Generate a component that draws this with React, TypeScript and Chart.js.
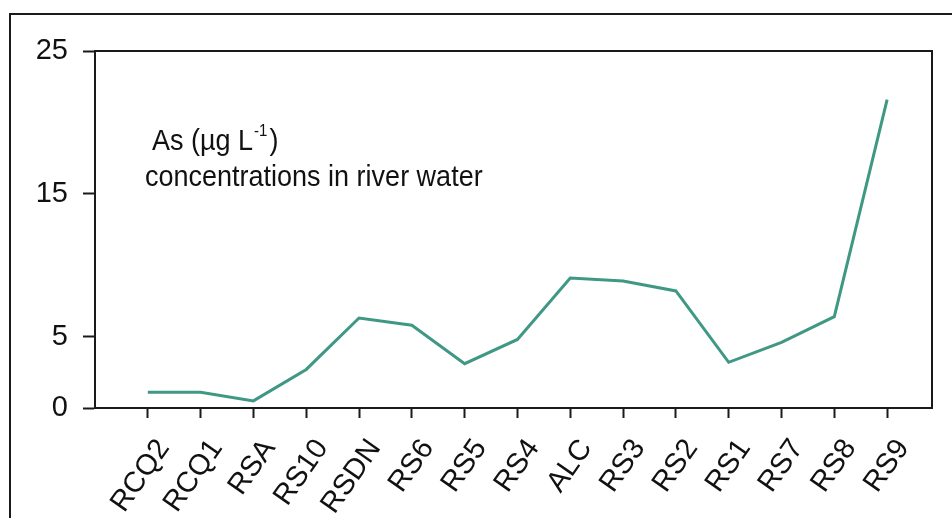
import React, { useEffect, useRef } from "react";
import { Chart, registerables } from "chart.js";

Chart.register(...registerables);

const categories = ["RCQ2", "RCQ1", "RSA", "RS10", "RSDN", "RS6", "RS5", "RS4", "ALC", "RS3", "RS2", "RS1", "RS7", "RS8", "RS9"];
const asValues = [1.1, 1.1, 0.5, 2.7, 6.3, 5.8, 3.1, 4.8, 9.1, 8.9, 8.2, 3.2, 4.6, 6.4, 21.6];
const yTicks = [0, 5, 15, 25];
const titleLine1 = "As (µg L";
const titleSup = "-1";
const titleClose = ")";
const titleLine2 = "concentrations in river water";

const FONT = "'Liberation Sans', Arial, sans-serif";

export default function App() {
  const ref = useRef<HTMLCanvasElement | null>(null);
  useEffect(() => {
    document.body.style.margin = "0";
    const canvas = ref.current!;
    const framePlugin = {
      id: "frame",
      afterDraw(chart: any) {
        const ctx = chart.ctx;
        const a = chart.chartArea;
        ctx.save();
        ctx.strokeStyle = "#1a1a1a";
        ctx.lineWidth = 2;
        ctx.strokeRect(a.left, a.top, a.right - a.left, a.bottom - a.top);
        ctx.strokeRect(10, 14, 1000, 600);
        ctx.fillStyle = "#111";
        ctx.textBaseline = "alphabetic";
        const sx = 1.0;
        const sy = 1.08;
        // line 1
        ctx.save();
        ctx.translate(152, 150);
        ctx.scale(sx, sy);
        ctx.font = `27px ${FONT}`;
        ctx.fillText(titleLine1, 0, 0);
        const w1 = ctx.measureText(titleLine1).width;
        ctx.font = `15px ${FONT}`;
        ctx.fillText(titleSup, w1 + 1, -13);
        const ws = ctx.measureText(titleSup).width;
        ctx.font = `27px ${FONT}`;
        ctx.fillText(titleClose, w1 + ws + 3, 0);
        ctx.restore();
        // line 2
        ctx.save();
        ctx.translate(145, 186);
        ctx.scale(sx, sy);
        ctx.font = `27px ${FONT}`;
        ctx.fillText(titleLine2, 0, 0);
        ctx.restore();
        ctx.restore();
      },
    };
    const chart = new Chart(canvas, {
      type: "line",
      data: {
        datasets: [
          {
            data: asValues.map((v, i) => ({ x: i, y: v })),
            borderColor: "#3f9884",
            borderWidth: 3,
            pointRadius: 0,
            tension: 0,
            fill: false,
          },
        ],
      },
      options: {
        animation: false,
        responsive: false,
        plugins: { legend: { display: false }, tooltip: { enabled: false } },
        layout: { padding: { top: 51, right: 20, left: 0, bottom: 0 } },
        scales: {
          x: {
            type: "linear",
            min: -1,
            max: 14.85,
            afterBuildTicks: (s: any) => {
              s.ticks = categories.map((_, i) => ({ value: i }));
            },
            afterFit: (s: any) => {
              s.height = 110;
            },
            ticks: {
              autoSkip: false,
              maxRotation: 55,
              minRotation: 55,
              padding: 15,
              labelOffset: 16,
              color: "#111",
              font: { family: FONT, size: 29 },
              callback: (v: any) => categories[v] ?? "",
            },
            grid: { drawOnChartArea: false, tickLength: 10, tickWidth: 2, tickColor: "#1a1a1a", color: "#1a1a1a" },
            border: { display: true, color: "#1a1a1a", width: 2 },
          },
          y: {
            min: 0,
            max: 25,
            afterBuildTicks: (s: any) => {
              s.ticks = yTicks.map((v) => ({ value: v }));
            },
            afterFit: (s: any) => {
              s.width = 95;
            },
            ticks: {
              padding: 15,
              color: "#111",
              font: { family: FONT, size: 29 },
            },
            grid: { drawOnChartArea: false, tickLength: 12, tickWidth: 2, tickColor: "#1a1a1a", color: "#1a1a1a" },
            border: { display: true, color: "#1a1a1a", width: 2 },
          },
        },
      },
      plugins: [framePlugin],
    } as any);
    return () => chart.destroy();
  }, []);
  return <canvas ref={ref} width={952} height={518} style={{ display: "block" }} />;
}
